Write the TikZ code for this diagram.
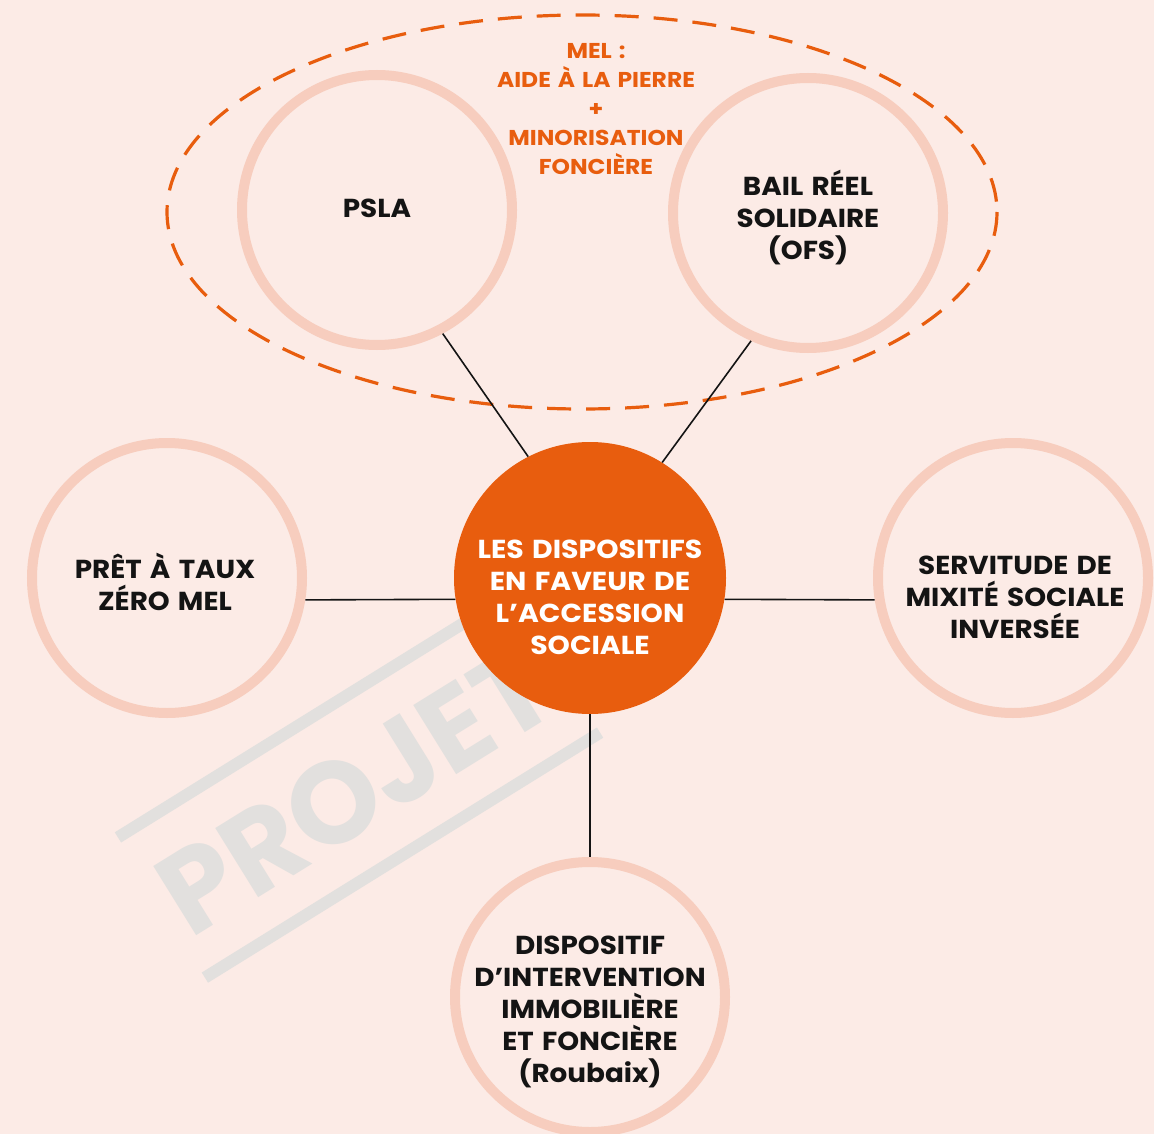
\documentclass[tikz,border=0pt]{standalone}
\usepackage{fontspec}
\setmainfont{Poppins}
\newfontfamily\gfont{Poppins}[FakeStretch=1.07, WordSpace=1.4]
\newfontfamily\hfont{Poppins}[FakeStretch=1.09, WordSpace=1.4]
\definecolor{bg}{RGB}{252,235,230}
\definecolor{ring}{RGB}{247,205,190}
\definecolor{orng}{RGB}{232,93,14}
\definecolor{wm}{RGB}{226,224,222}
\definecolor{ink}{RGB}{20,20,20}
\begin{document}
\begin{tikzpicture}[x=1pt,y=-1pt,
  ringnode/.style={circle,draw=ring,line width=10pt,minimum size=270pt,inner sep=0pt},
  hub/.style={circle,fill=orng,minimum size=272pt,inner sep=0pt},
  lbl/.style={font=\gfont\bfseries\fontsize{26}{32}\selectfont,text=ink,align=center,inner sep=0pt},
  hublbl/.style={font=\hfont\bfseries\fontsize{26}{32}\selectfont,text=white,align=center,inner sep=0pt},
  mellbl/.style={font=\hfont\bfseries\fontsize{21.5}{29}\selectfont,text=orng,align=center,inner sep=0pt},
  conn/.style={draw=ink,line width=1.6pt},
  wmline/.style={draw=wm,line width=12pt}]
\fill[bg] (0,0) rectangle (1154,1134);
\useasboundingbox (0,0) rectangle (1154,1134);
\clip (0,0) rectangle (1154,1134);
% watermark
\begin{scope}[shift={(359,785)},rotate=31.8]
  \draw[wmline] (-232.5,-82.5) -- (232.5,-82.5);
  \draw[wmline] (-232.5,82.5) -- (232.5,82.5);
  \node[font=\bfseries\fontsize{116}{120}\selectfont,text=wm,rotate=31.8,inner sep=0pt] (wmtext) at (-6,2) {PROJET};
\end{scope}
% dashed MEL ellipse
\draw[orng,line width=3.2pt,dash pattern=on 24pt off 15pt] (582,212) ellipse [x radius=415, y radius=197];
% nodes
\node[hub] (c) at (590,578) {};
\node[ringnode] (psla) at (377,210) {};
\node[ringnode] (brs) at (808,213) {};
\node[ringnode] (ptz) at (167,578) {};
\node[ringnode] (smsi) at (1013,578) {};
\node[ringnode] (diif) at (590,997) {};
% connectors
\draw[conn] (c.117.7) -- (psla.-62);
\draw[conn] (c.58.2) -- (brs.-114);
\draw[conn] (c.189.3) -- (ptz.-9);
\draw[conn] (c.-9.3) -- (smsi.189);
\draw[conn] (c.south) -- (diif.north);
% labels
\node[mellbl] (mel) at (596,109) {MEL :\\AIDE À LA PIERRE\\+\\MINORISATION\\FONCIÈRE};
\node[lbl] (tpsla) at (377,208) {PSLA};
\node[lbl] (tbrs) at (808,218) {BAIL RÉEL\\SOLIDAIRE\\(OFS)};
\node[lbl] (tptz) at (165,582) {PRÊT À TAUX\\ZÉRO MEL};
\node[lbl] (tsmsi) at (1015,597) {SERVITUDE DE\\MIXITÉ SOCIALE\\INVERSÉE};
\node[lbl] (tdiif) at (590,1012) {DISPOSITIF\\D’INTERVENTION\\IMMOBILIÈRE\\ET FONCIÈRE\\(Roubaix)};
\node[hublbl] (tc) at (590,597) {LES DISPOSITIFS\\EN FAVEUR DE\\L’ACCESSION\\SOCIALE};
\end{tikzpicture}
\end{document}
